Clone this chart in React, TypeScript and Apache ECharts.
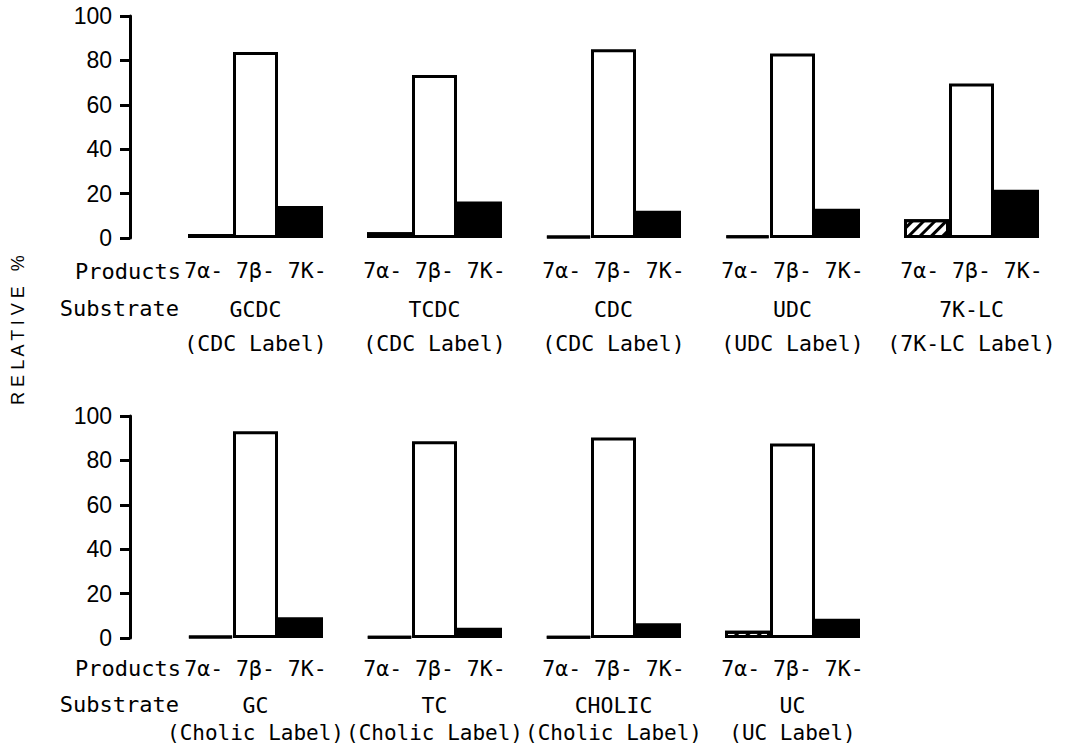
import React, { useEffect, useRef } from "react";
import * as echarts from "echarts";

// ---- data ----
const productLabels = ["7α-", "7β-", "7K-"];

const topSubstrates = ["GCDC", "TCDC", "CDC", "UDC", "7K-LC"];
const topLabelNotes = ["(CDC Label)", "(CDC Label)", "(CDC Label)", "(UDC Label)", "(7K-LC Label)"];
const top7alpha = [1.8, 2.6, 0.8, 1.2, 8.5];
const top7beta = [83.8, 73.4, 85, 83.1, 69.6];
const top7keto = [14.4, 16.4, 12.3, 13.2, 21.7];

const bottomSubstrates = ["GC", "TC", "CHOLIC", "UC"];
const bottomLabelNotes = ["(Cholic Label)", "(Cholic Label)", "(Cholic Label)", "(UC Label)"];
const bottom7alpha = [0.8, 0.7, 0.7, 3.3];
const bottom7beta = [93.1, 88.6, 90.3, 87.6];
const bottom7keto = [9.3, 4.6, 6.6, 8.7];

const yTicks = { min: 0, max: 100, interval: 20 };

const SANS = "Liberation Sans";
const MONO = "DejaVu Sans Mono";

const hatchDecal = {
  symbol: "rect",
  symbolSize: 1,
  dashArrayX: [1, 0],
  dashArrayY: [2.5, 4.5],
  rotation: -Math.PI / 4,
  color: "#000",
  backgroundColor: "rgba(0,0,0,0)",
};

export default function App() {
  const ref = useRef<HTMLDivElement>(null);
  useEffect(() => {
    if (!ref.current) return;
    const chart = echarts.init(ref.current, null, { renderer: "svg" });

    const yAxisBase = (gridIndex: number, offset: number) => ({
      type: "value",
      gridIndex,
      min: yTicks.min,
      max: yTicks.max,
      interval: yTicks.interval,
      offset,
      axisLine: { show: true, lineStyle: { color: "#000", width: 3 } },
      axisTick: { show: true, length: 10, lineStyle: { color: "#000", width: 3 } },
      axisLabel: { color: "#000", fontSize: 23, margin: 18, fontFamily: SANS },
      splitLine: { show: false },
    });

    const barSeries = (xi: number, data: number[][], width: number) => [
      {
        type: "bar",
        xAxisIndex: xi,
        yAxisIndex: xi,
        data: data[0],
        barWidth: width,
        barGap: "0%",
        itemStyle: { color: "#fff", borderColor: "#000", borderWidth: 3, decal: hatchDecal },
      },
      {
        type: "bar",
        xAxisIndex: xi,
        yAxisIndex: xi,
        data: data[1],
        barWidth: width,
        barGap: "0%",
        itemStyle: { color: "#fff", borderColor: "#000", borderWidth: 3 },
      },
      {
        type: "bar",
        xAxisIndex: xi,
        yAxisIndex: xi,
        data: data[2],
        barWidth: width,
        barGap: "0%",
        itemStyle: { color: "#000", borderColor: "#000", borderWidth: 2 },
      },
    ];

    const productsRow = `{p|${productLabels.join(" ")}}`;
    const FS = 21.5;

    const headerText = (text: string, x: number, y: number) => ({
      type: "text",
      x,
      y,
      style: { text, fontSize: 22, fontFamily: MONO, fill: "#000", align: "right", verticalAlign: "middle" },
    });

    const option: any = {
      animation: false,
      backgroundColor: "#fff",
      textStyle: { fontFamily: MONO, color: "#000" },
      grid: [
        { left: 166, top: 16, width: 895, height: 222 },
        { left: 166, top: 416, width: 716, height: 222 },
      ],
      xAxis: [
        {
          type: "category",
          gridIndex: 0,
          data: topSubstrates,
          axisLine: { show: false },
          axisTick: { show: false },
          axisLabel: {
            interval: 0,
            margin: 14,
            color: "#000",
            formatter: (v: string, i: number) =>
              `${productsRow}\n{s|${v}}\n{l|${topLabelNotes[i]}}`,
            rich: {
              p: { fontSize: FS, lineHeight: 36, fontFamily: MONO, color: "#000" },
              s: { fontSize: FS, lineHeight: 42, fontFamily: MONO, color: "#000" },
              l: { fontSize: FS, lineHeight: 26, fontFamily: MONO, color: "#000" },
            },
          },
        },
        {
          type: "category",
          gridIndex: 1,
          data: bottomSubstrates,
          axisLine: { show: false },
          axisTick: { show: false },
          axisLabel: {
            interval: 0,
            margin: 12,
            color: "#000",
            formatter: (v: string, i: number) =>
              `${productsRow}\n{s|${v}}\n{l|${bottomLabelNotes[i]}}`,
            rich: {
              p: { fontSize: FS, lineHeight: 36, fontFamily: MONO, color: "#000" },
              s: { fontSize: FS, lineHeight: 38, fontFamily: MONO, color: "#000" },
              l: { fontSize: 21, lineHeight: 18, fontFamily: MONO, color: "#000" },
            },
          },
        },
      ],
      yAxis: [yAxisBase(0, 36), yAxisBase(1, 36)],
      series: [
        ...barSeries(0, [top7alpha, top7beta, top7keto], 45),
        ...barSeries(1, [bottom7alpha, bottom7beta, bottom7keto], 45),
      ],
      graphic: [
        {
          type: "text",
          x: 18,
          y: 330,
          rotation: Math.PI / 2,
          style: {
            text: "R E L A T I V E   %",
            fontSize: 18,
            fontFamily: SANS,
            fill: "#000",
            align: "center",
            verticalAlign: "middle",
          },
        },
        headerText("Products", 181, 271),
        headerText("Substrate", 179, 308),
        headerText("Products", 181, 668),
        headerText("Substrate", 179, 704),
      ],
    };

    chart.setOption(option);
    return () => chart.dispose();
  }, []);

  return (
    <div
      ref={ref}
      style={{ position: "fixed", left: 0, top: 0, width: 1071, height: 748, background: "#fff" }}
    />
  );
}
